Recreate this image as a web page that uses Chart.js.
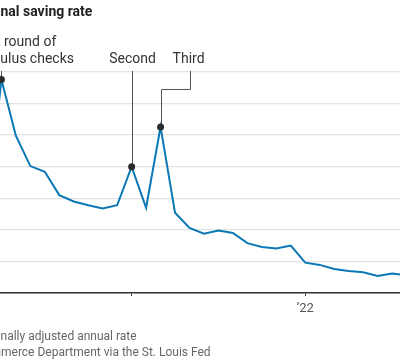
<!DOCTYPE html>
<html><head><meta charset="utf-8">
<script src="https://cdn.jsdelivr.net/npm/chart.js@4/dist/chart.umd.min.js"></script>
<style>
html,body{margin:0;padding:0;width:400px;height:360px;overflow:hidden;background:#fff}
#wrap{position:absolute;left:-100px;top:0;width:540px;height:360px}
</style></head><body>
<div id="wrap"><canvas id="c"></canvas></div>
<script>
// Month index 0 = Jan 2020
const months = ['2020-01','2020-02','2020-03','2020-04','2020-05','2020-06','2020-07','2020-08','2020-09','2020-10','2020-11','2020-12',
  '2021-01','2021-02','2021-03','2021-04','2021-05','2021-06','2021-07','2021-08','2021-09','2021-10','2021-11','2021-12',
  '2022-01','2022-02','2022-03','2022-04','2022-05','2022-06','2022-07','2022-08'];
const savingRate = [8.0, 8.5, 12.8, 33.8, 24.9, 20.1, 19.2, 15.5, 14.5, 13.9, 13.4, 13.9,
  20.0, 13.5, 26.3, 12.7, 10.3, 9.4, 9.9, 9.5, 7.9, 7.3, 7.05, 7.5,
  4.8, 4.45, 3.8, 3.5, 3.3, 2.7, 3.1, 2.8];
const xTickValues = [0, 12, 24];
const xTickLabels = ['2020', '', '\u201922'];
const yTicks = [0, 5, 10, 15, 20, 25, 30, 35];
const annotatedIdx = [3, 12, 14];
const annotationText = [['First round of', 'stimulus checks'], ['Second'], ['Third']];
const titleText = 'Personal saving rate';
const noteText = 'Note: Seasonally adjusted annual rate';
const sourceText = 'Source: Commerce Department via the St. Louis Fed';

const OFF = 100; // canvas x of page x = 0
const FONT = 'Roboto, "Noto Sans", sans-serif';

const overlay = {
  id: 'overlay',
  beforeDatasetsDraw(chart) {
    const ctx = chart.ctx, xs = chart.scales.x, ys = chart.scales.y;
    ctx.save();
    ctx.strokeStyle = '#555';
    ctx.lineWidth = 1;
    const path = pts => { ctx.beginPath(); pts.forEach((p, i) => i ? ctx.lineTo(p[0], p[1]) : ctx.moveTo(p[0], p[1])); ctx.stroke(); };
    const px = i => Math.round(xs.getPixelForValue(i)) + 0.5;
    const py = i => ys.getPixelForValue(savingRate[i]);
    const top = 71;
    path([[px(annotatedIdx[0]), top], [px(annotatedIdx[0]), py(annotatedIdx[0])]]);
    path([[px(annotatedIdx[1]), top], [px(annotatedIdx[1]), py(annotatedIdx[1])]]);
    const tx = px(annotatedIdx[2]);
    path([[tx + 29, top], [tx + 29, 89.5], [tx, 89.5], [tx, py(annotatedIdx[2])]]);
    ctx.restore();
  },
  afterDraw(chart) {
    const ctx = chart.ctx, xs = chart.scales.x;
    ctx.save();
    ctx.textBaseline = 'alphabetic';
    // title
    ctx.fillStyle = '#222';
    ctx.font = 'bold 14px ' + FONT;
    ctx.textAlign = 'left';
    ctx.fillText(titleText, OFF + 0.5 - ctx.measureText('Perso').width, 16);
    // annotations
    ctx.font = '14px ' + FONT;
    ctx.fillStyle = '#333';
    const fl = OFF + 4 - ctx.measureText('First ').width;
    ctx.fillText(annotationText[0][0], fl, 46);
    ctx.fillText(annotationText[0][1], fl, 63.3);
    ctx.textAlign = 'center';
    ctx.fillText(annotationText[1][0], xs.getPixelForValue(annotatedIdx[1]) + 1, 63.3);
    ctx.fillText(annotationText[2][0], xs.getPixelForValue(annotatedIdx[2]) + 28, 63.3);
    // footnotes
    ctx.textAlign = 'left';
    ctx.font = '12px ' + FONT;
    ctx.fillStyle = '#666';
    ctx.fillText(noteText, OFF + 0.5 - ctx.measureText('Note: Seaso').width, 339.5);
    ctx.fillText(sourceText, OFF + 1 - ctx.measureText('Source: Com').width, 356);
    ctx.restore();
  }
};

new Chart(document.getElementById('c'), {
  type: 'line',
  data: {
    datasets: [{
      data: months.map((m, i) => ({ x: i, y: savingRate[i] })),
      borderColor: '#0b78b5',
      borderWidth: 2,
      tension: 0,
      fill: false,
      pointRadius: ctx => annotatedIdx.includes(ctx.dataIndex) ? 3.5 : 0,
      pointBackgroundColor: '#2b2b2b',
      pointBorderWidth: 0,
      pointHoverRadius: 0
    }]
  },
  options: {
    responsive: true,
    maintainAspectRatio: false,
    animation: false,
    events: [],
    layout: { padding: { left: 18, right: 19, top: 72, bottom: 37 } },
    plugins: { legend: { display: false }, tooltip: { enabled: false }, title: { display: false } },
    scales: {
      x: {
        type: 'linear',
        min: 0, max: 32,
        afterFit: s => { s.height = 30; },
        afterBuildTicks: s => { s.ticks = xTickValues.map(v => ({ value: v })); },
        ticks: {
          autoSkip: false, maxRotation: 0, padding: 5,
          color: '#555',
          font: { family: FONT, size: 13 },
          callback: v => xTickLabels[xTickValues.indexOf(v)]
        },
        grid: { display: true, drawOnChartArea: false, drawTicks: true, tickLength: 3, color: '#333', lineWidth: 1 },
        border: { display: true, color: '#333', width: 1.5 }
      },
      y: {
        min: 0, max: 35,
        afterFit: s => { s.width = 40; },
        afterBuildTicks: s => { s.ticks = yTicks.map(v => ({ value: v })); },
        ticks: { display: false },
        grid: { color: '#e3e3e3', lineWidth: 1.3, drawTicks: false },
        border: { display: false }
      }
    }
  },
  plugins: [overlay]
});
</script>
</body></html>
